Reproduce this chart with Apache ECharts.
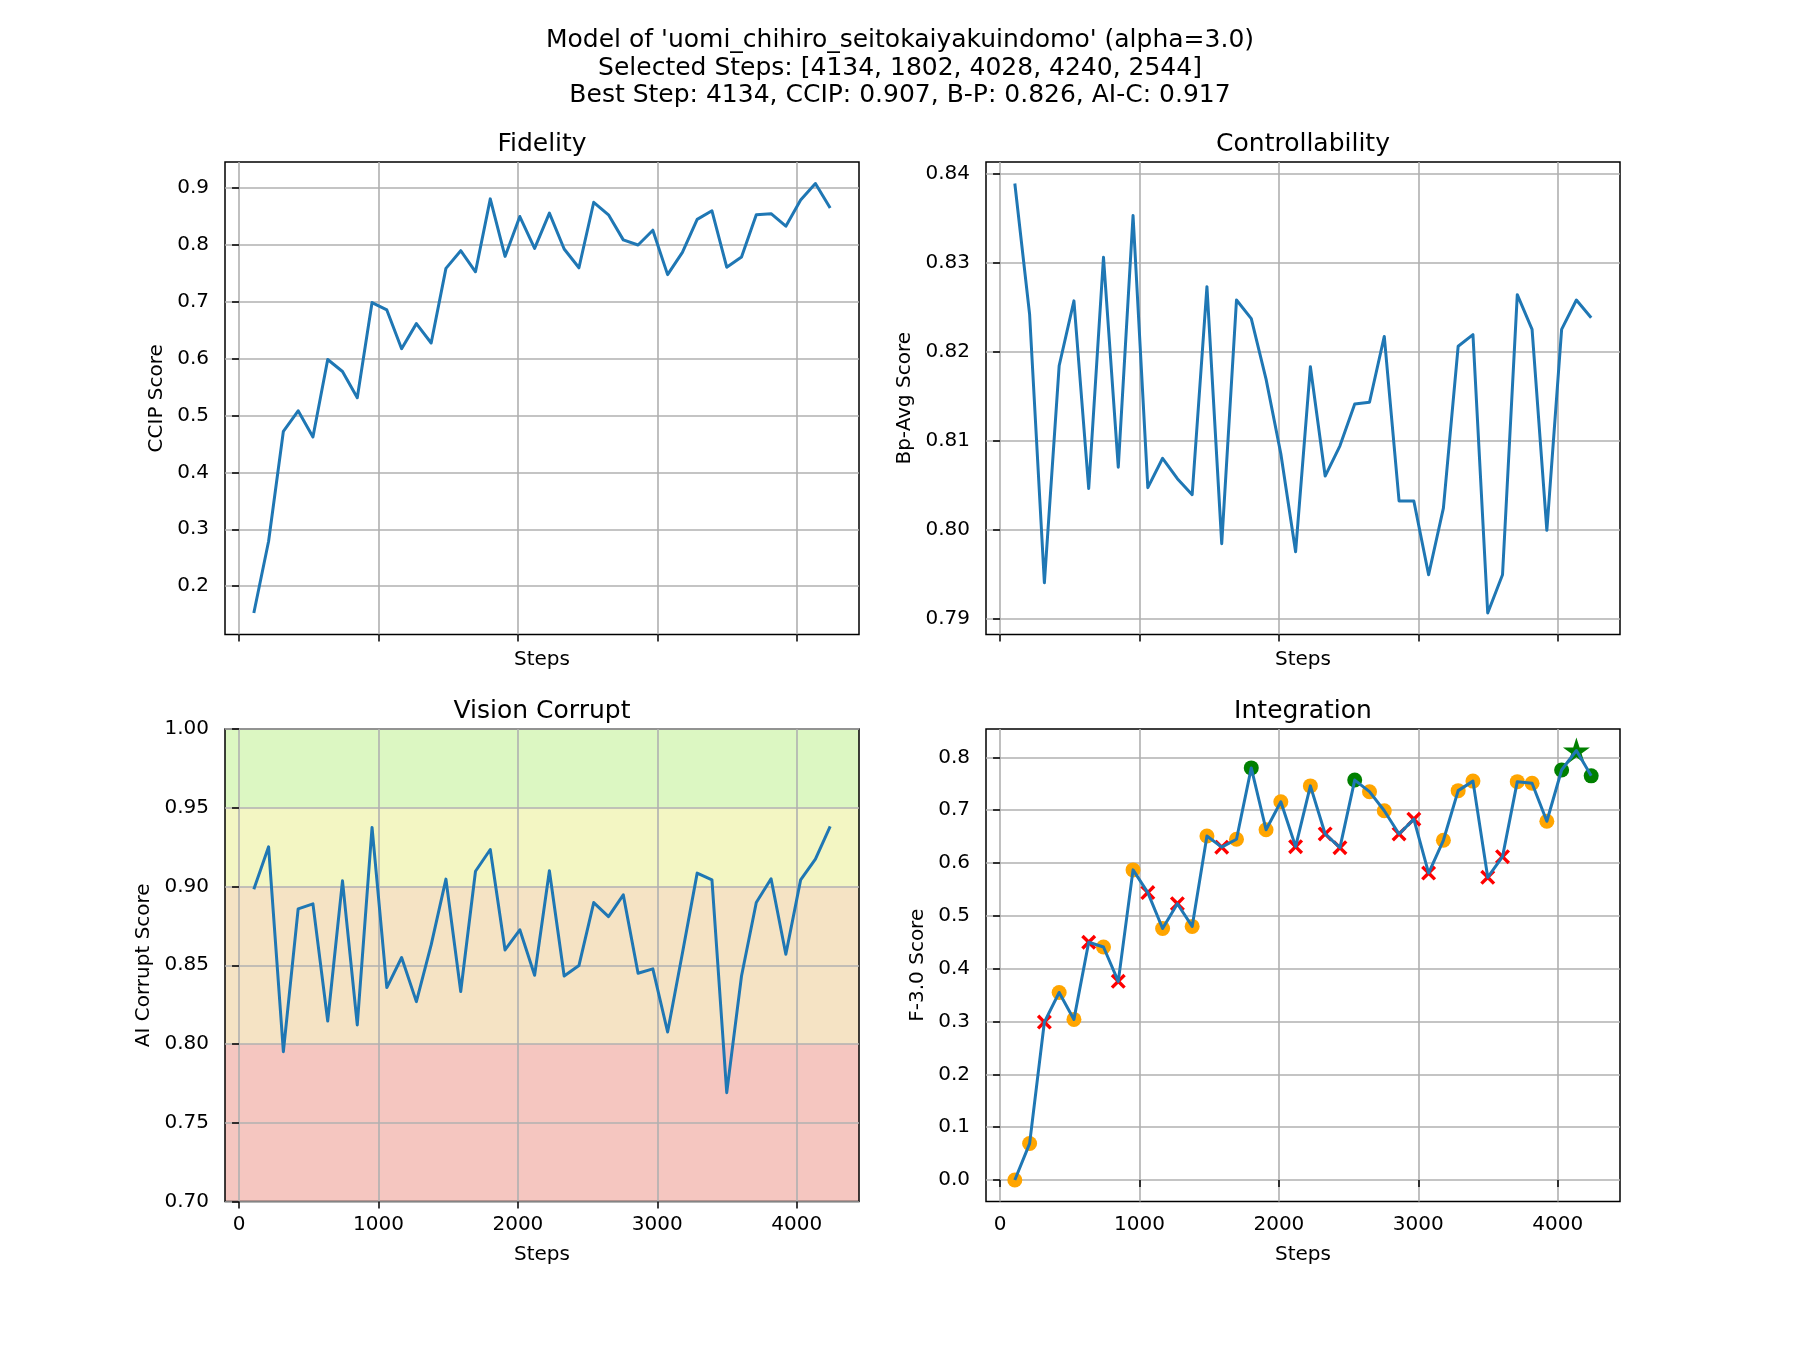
<!DOCTYPE html>
<html><head><meta charset="utf-8">
<script src="https://cdn.jsdelivr.net/npm/echarts@6/dist/echarts.min.js"></script>
<style>html,body{margin:0;padding:0;background:#fff}#c{width:1800px;height:1350px}</style>
</head><body><div id="c"></div>
<script>
const steps = [106,212,318,424,530,636,742,848,954,1060,1166,1272,1378,1484,1590,1696,1802,1908,2014,2120,
               2226,2332,2438,2544,2650,2756,2862,2968,3074,3180,3286,3392,3498,3604,3710,3816,3922,4028,4134,4240];
const ccip = [0.153,0.279,0.472,0.508,0.462,0.598,0.577,0.531,0.698,0.685,0.617,0.661,0.627,0.758,0.789,0.752,0.880,0.779,0.849,0.793,
              0.855,0.792,0.759,0.874,0.852,0.808,0.799,0.825,0.747,0.786,0.844,0.859,0.760,0.778,0.852,0.854,0.832,0.878,0.907,0.864];
const bpAvg = [0.8389,0.8242,0.7940,0.8184,0.8257,0.8046,0.8306,0.8070,0.8353,0.8047,0.8080,0.8057,0.8039,0.8273,0.7984,0.8258,0.8237,0.8169,0.8085,0.7975,
               0.8183,0.8060,0.8094,0.8141,0.8143,0.8217,0.8032,0.8032,0.7949,0.8024,0.8206,0.8219,0.7906,0.7949,0.8264,0.8225,0.7999,0.8225,0.8258,0.8238];
const aiCorrupt = [0.8983,0.9252,0.7951,0.8858,0.8890,0.8146,0.9036,0.8121,0.9375,0.8358,0.8549,0.8269,0.8629,0.9047,0.8333,0.9097,0.9235,0.8597,0.8725,0.8436,
                   0.9100,0.8432,0.8498,0.8898,0.8809,0.8947,0.8449,0.8477,0.8076,0.8576,0.9085,0.9042,0.7691,0.8432,0.8898,0.9049,0.8570,0.9042,0.9174,0.9381];
const f3 = [0.000,0.069,0.299,0.355,0.304,0.450,0.441,0.376,0.587,0.544,0.476,0.523,0.480,0.651,0.630,0.645,0.780,0.663,0.716,0.631,
            0.746,0.655,0.629,0.757,0.735,0.699,0.655,0.683,0.581,0.643,0.737,0.755,0.573,0.612,0.754,0.751,0.679,0.776,0.813,0.765];
// o = normal (orange), x = rejected (red), g = selected (green), s = best (star)
const f3Kind = ['o','o','x','o','o','x','o','x','o','x','o','x','o','o','x','o','g','o','o','x',
                'o','x','x','g','o','o','x','x','x','o','o','o','x','x','o','o','o','g','s','g'];
const xTicks = [0,1000,2000,3000,4000];
const ccipTicks = [0.2,0.3,0.4,0.5,0.6,0.7,0.8,0.9];
const bpTicks = [0.79,0.80,0.81,0.82,0.83,0.84];
const aicTicks = [0.70,0.75,0.80,0.85,0.90,0.95,1.00];
const f3Ticks = [0.0,0.1,0.2,0.3,0.4,0.5,0.6,0.7,0.8];
const bandLimits = [[0.95,1.00],[0.90,0.95],[0.80,0.90],[0.70,0.80]];
const bandColors = ['#dcf7c2','#f3f6c3','#f5e3c4','#f5c6c0'];
const suptitle = ["Model of 'uomi_chihiro_seitokaiyakuindomo' (alpha=3.0)",
                  "Selected Steps: [4134, 1802, 4028, 4240, 2544]",
                  "Best Step: 4134, CCIP: 0.907, B-P: 0.826, AI-C: 0.917"];
const panelTitles = ['Fidelity','Controllability','Vision Corrupt','Integration'];
const yNames = ['CCIP Score','Bp-Avg Score','AI Corrupt Score','F-3.0 Score'];

const FF = 'DejaVu Sans';
function pad(arr){const mn=Math.min(...arr),mx=Math.max(...arr),r=mx-mn;return [mn-0.05*r,mx+0.05*r];}
const xr = pad(steps);
const pairs = v => steps.map((s,i)=>[s,v[i]]);

const gridPos = [[225,162],[986,162],[225,729],[986,729]];
const GW = 634, GH = 472.5;
const grids = gridPos.map(p=>({left:p[0],top:p[1],width:GW,height:GH,show:true,borderColor:'#000',borderWidth:1.5,backgroundColor:'transparent',containLabel:false,outerBoundsMode:'none'}));

function mkX(gi, showLabels){
  return {type:'value',gridIndex:gi,min:xr[0],max:xr[1],name:'Steps',nameLocation:'middle',nameGap:showLabels?43:15,
    nameTextStyle:{fontSize:20,color:'#000',fontFamily:FF},
    axisLine:{show:false},
    axisTick:{show:true,customValues:xTicks,length:7,lineStyle:{color:'#000',width:1.5}},
    axisLabel:{show:showLabels,customValues:xTicks,margin:13,fontSize:20,color:'#000',fontFamily:FF,formatter:v=>String(Math.round(v))},
    splitLine:{show:true,lineStyle:{color:'#b0b0b0',width:1.6}}};
}
function mkY(gi, range, ticks, dec, gap){
  return {type:'value',gridIndex:gi,min:range[0],max:range[1],name:yNames[gi],nameLocation:'middle',nameGap:gap,nameRotate:90,
    nameTextStyle:{fontSize:20,color:'#000',fontFamily:FF},
    axisLine:{show:false},
    axisTick:{show:true,customValues:ticks,length:7,lineStyle:{color:'#000',width:1.5}},
    axisLabel:{show:true,customValues:ticks,margin:16,fontSize:20,color:'#000',fontFamily:FF,formatter:v=>Number(v).toFixed(dec)},
    splitLine:{show:true,lineStyle:{color:'#b0b0b0',width:1.6}}};
}

const titles = [{text:suptitle.join('\n'),left:900,top:27,textAlign:'center',padding:0,
  textStyle:{fontSize:25,fontWeight:'normal',lineHeight:27.5,fontFamily:FF,color:'#000'}}];
panelTitles.forEach((t,i)=>{
  titles.push({text:t,left:gridPos[i][0]+GW/2,top:gridPos[i][1]-31,textAlign:'center',padding:0,
    textStyle:{fontSize:25,fontWeight:'normal',lineHeight:26,fontFamily:FF,color:'#000'}});
});

const lineStyle = {color:'#1f77b4',width:3,join:'round'};
const lineSeries = (gi, v) => ({type:'line',xAxisIndex:gi,yAxisIndex:gi,data:pairs(v),symbol:'none',showSymbol:false,lineStyle:lineStyle,z:3,animation:false,silent:true});

const starPath = 'path://M50,0 L61.2,34.5 L97.6,34.5 L68.2,55.9 L79.4,90.5 L50,69.1 L20.6,90.5 L31.8,55.9 L2.4,34.5 L38.8,34.5 Z';
const xPath = 'path://M1.6,0 L5,3.4 L8.4,0 L10,1.6 L6.6,5 L10,8.4 L8.4,10 L5,6.6 L1.6,10 L0,8.4 L3.4,5 L0,1.6 Z';
function kindData(k){return steps.map((s,i)=>[s,f3[i]]).filter((d,i)=>f3Kind[i]===k);}
const sc = (k, sym, size, color) => ({type:'scatter',xAxisIndex:3,yAxisIndex:3,data:kindData(k),symbol:sym,symbolSize:size,
  itemStyle:{color:color,opacity:1},z:2,animation:false,silent:true});

const series = [
  lineSeries(0, ccip),
  lineSeries(1, bpAvg),
  {type:'line',xAxisIndex:2,yAxisIndex:2,data:pairs(aiCorrupt),symbol:'none',lineStyle:{opacity:0},z:-1,silent:true,animation:false,
    markArea:{silent:true,z:-1,data:bandLimits.map((b,i)=>[{yAxis:b[0],itemStyle:{color:bandColors[i],opacity:1}},{yAxis:b[1]}])}},
  lineSeries(2, aiCorrupt),
  sc('o','circle',15,'#ffa500'),
  sc('x',xPath,15,'#ff0000'),
  sc('g','circle',15,'#008000'),
  sc('s',starPath,[27,26],'#008000'),
  lineSeries(3, f3)
];

const chart = echarts.init(document.getElementById('c'), null, {renderer:'canvas'});
chart.setOption({
  animation:false,
  backgroundColor:'#fff',
  title:titles,
  grid:grids,
  xAxis:[mkX(0,false),mkX(1,false),mkX(2,true),mkX(3,true)],
  yAxis:[mkY(0,pad(ccip),ccipTicks,1,58), mkY(1,pad(bpAvg),bpTicks,2,71), mkY(2,[0.70,1.00],aicTicks,2,71), mkY(3,pad(f3),f3Ticks,1,58)],
  series:series
});
</script></body></html>
